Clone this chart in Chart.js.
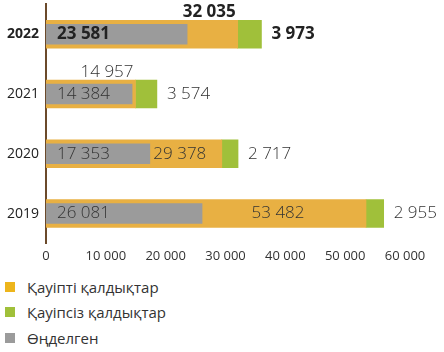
<!DOCTYPE html>
<html><head><meta charset="utf-8">
<script src="https://cdn.jsdelivr.net/npm/chart.js@4"></script>
<style>
html,body{margin:0;padding:0;background:#fff;}
#wrap{position:relative;width:444px;height:352px;overflow:hidden;}
#c{position:absolute;left:0;top:-11px;}
.legend{position:absolute;left:5px;top:274px;font-family:'Open Sans',sans-serif;font-size:15px;color:#333;}
.item{height:25.5px;display:flex;align-items:center;white-space:nowrap;}
.sw{width:10px;height:10px;margin-right:12px;flex:none;}
</style></head><body>
<div id="wrap"><canvas id="c" width="444" height="281" style="width:444px;height:281px"></canvas><div class="legend" id="lg"></div></div>
<script>
const years = ['2022','2021','2020','2019'];
const hazardous = [32035, 14957, 29378, 53482];
const nonHazardous = [3973, 3574, 2717, 2955];
const processed = [23581, 14384, 17353, 26081];
const seriesNames = ['Қауіпті қалдықтар', 'Қауіпсіз қалдықтар', 'Өңделген'];
const xTickValues = [0, 10000, 20000, 30000, 40000, 50000, 60000];

const barColors = ['#E8B043', '#A0C03A', '#9B9B9B'];
const legendColors = ['#EDB51C', '#A0C03A', '#9B9B9B'];

function fmt(v){ return String(Math.round(v)).replace(/\B(?=(\d{3})+(?!\d))/g, '\u00a0'); }

const labelPlugin = {
  id: 'valueLabels',
  afterDatasetsDraw(chart){
    const ctx = chart.ctx;
    const mO = chart.getDatasetMeta(0), mG = chart.getDatasetMeta(1), mP = chart.getDatasetMeta(2);
    const left = chart.chartArea.left;
    ctx.save();
    ctx.textBaseline = 'middle';
    for (let i = 0; i < years.length; i++){
      const o = mO.data[i], g = mG.data[i], p = mP.data[i];
      const bold = i === 0;
      ctx.font = (bold ? 'bold ' : '300 ') + '17px "Open Sans"';
      ctx.fillStyle = bold ? '#222' : '#333';
      ctx.textAlign = 'left';
      ctx.fillText(fmt(processed[i]), left + 11, p.y);
      ctx.fillText(fmt(nonHazardous[i]), g.x + 10, g.y);
      const t = fmt(hazardous[i]);
      const w = ctx.measureText(t).width;
      if (o.x - p.x > w + 12){
        ctx.textAlign = 'center';
        ctx.fillText(t, (p.x + o.x) / 2 - 6, o.y);
      } else {
        ctx.textAlign = 'right';
        ctx.fillText(t, o.x - 2, o.y - 22);
      }
    }
    ctx.restore();
  }
};

const chart = new Chart(document.getElementById('c'), {
  type: 'bar',
  data: {
    labels: years,
    datasets: [
      {label: seriesNames[0], data: hazardous, backgroundColor: barColors[0], stack: 'total', barThickness: 28, grouped: false, order: 1},
      {label: seriesNames[1], data: nonHazardous, backgroundColor: barColors[1], stack: 'total', barThickness: 28, grouped: false, order: 1},
      {label: seriesNames[2], data: processed, backgroundColor: barColors[2], stack: 'proc', barThickness: 20, grouped: false, order: 0}
    ]
  },
  options: {
    indexAxis: 'y',
    responsive: false,
    animation: false,
    layout: {padding: {left: 0, right: 39, top: 0, bottom: 1}},
    plugins: {legend: {display: false}, tooltip: {enabled: false}},
    scales: {
      x: {
        stacked: true, min: 0, max: 60000,
        afterBuildTicks(scale){ scale.ticks = xTickValues.map(v => ({value: v})); },
        ticks: {callback: v => fmt(v), font: {family: 'Open Sans', size: 13}, color: '#333', padding: 5, maxRotation: 0},
        grid: {display: false, drawTicks: false},
        border: {display: false}
      },
      y: {
        stacked: false,
        ticks: {
          font: ctx => ({family: 'Open Sans', size: 14, weight: ctx.index === 0 ? 'bold' : 'normal'}),
          color: '#222', padding: 7
        },
        grid: {display: false, drawTicks: false},
        border: {display: true, color: '#6B4A2B', width: 2}
      }
    }
  },
  plugins: [labelPlugin]
});

const lg = document.getElementById('lg');
seriesNames.forEach((n, i) => {
  const d = document.createElement('div'); d.className = 'item';
  const s = document.createElement('span'); s.className = 'sw'; s.style.background = legendColors[i];
  const t = document.createElement('span'); t.textContent = n;
  d.appendChild(s); d.appendChild(t); lg.appendChild(d);
});
</script>
</body></html>
